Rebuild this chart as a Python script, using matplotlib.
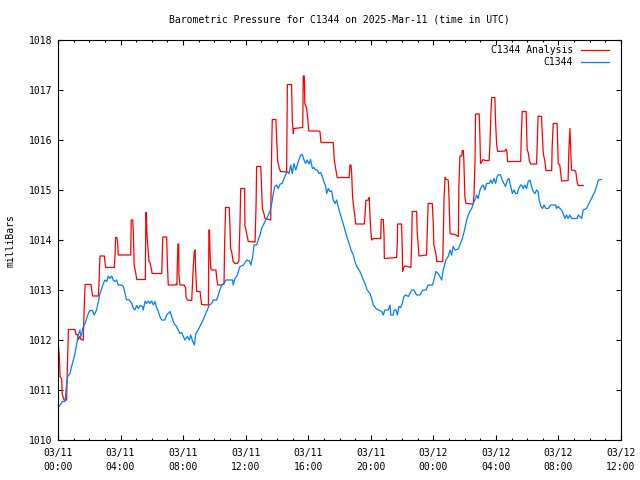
import numpy as np
import matplotlib
matplotlib.use("Agg")
import matplotlib.pyplot as plt
from matplotlib.lines import Line2D

plt.rcParams['font.family'] = ['DejaVu Sans Mono']
plt.rcParams['font.size'] = 7

# minutes after 2025-03-11 00:00 UTC, pressure in mbar
obs_min = [0, 8, 17, 27, 33, 37, 46, 52, 59, 65, 72, 78, 84, 88, 93, 97, 104, 110, 116, 123,
           132, 139, 148, 155, 161, 168, 174, 180, 187, 193, 199, 206, 212, 219, 225, 231, 244,
           251, 257, 263, 272, 283, 289, 295, 302, 308, 315, 324, 327, 334, 340, 346, 353, 359,
           366, 372, 379, 385, 391, 398, 410, 417, 430, 436, 445, 455, 461, 468, 474, 481, 487,
           496, 504, 509, 517, 523, 529, 538, 547, 557, 564, 573, 580, 590, 596, 609, 615, 621,
           628, 637, 644, 660, 670, 672, 679, 688,
           698, 711, 724, 734, 740, 747, 752, 762, 768, 775, 781, 788, 794, 801, 807, 813, 820,
           826, 832, 839, 845, 852, 860, 867, 873, 880, 886, 893, 899, 905, 912, 918, 924, 931,
           937, 944, 950, 956, 963, 969, 976, 982, 989, 995, 1001, 1008, 1014, 1020, 1027, 1031,
           1037, 1043, 1050, 1056, 1063, 1069, 1075, 1082,
           1088, 1094, 1101, 1110, 1117, 1124, 1133, 1139, 1146, 1155, 1162, 1169, 1178, 1186,
           1197, 1203, 1210, 1220, 1229, 1242, 1248, 1254, 1267, 1274, 1277, 1286, 1290, 1297,
           1302, 1308, 1315, 1321, 1327, 1334, 1344, 1350, 1357, 1366, 1376, 1389, 1399, 1412,
           1420, 1437,
           1442, 1450, 1459, 1465, 1472, 1478, 1488, 1497, 1504, 1510, 1516, 1523, 1536, 1542,
           1549, 1555, 1561, 1568, 1574, 1580, 1587, 1593, 1600, 1606, 1612, 1619, 1625, 1631,
           1638, 1644, 1654, 1660, 1666, 1673, 1679, 1685, 1692, 1698, 1704, 1711, 1717, 1724,
           1730, 1737, 1743, 1749, 1756, 1762, 1768, 1775,
           1779, 1785, 1791, 1798, 1804, 1811, 1817, 1823, 1830, 1836, 1842, 1846, 1853, 1859,
           1865, 1872, 1881, 1890, 1900, 1909, 1913, 1919, 1926, 1932, 1938, 1945, 1951, 1957,
           1964, 1970, 1983, 1992, 1996, 2002, 2009, 2015, 2028, 2034, 2041, 2047, 2053, 2060,
           2066, 2073, 2085]
obs_mb = [1010.64, 1010.70, 1010.77, 1010.77, 1011.13, 1011.27, 1011.33, 1011.47, 1011.60, 1011.73,
          1011.93, 1012.10, 1012.20, 1012.07, 1012.17, 1012.27, 1012.33, 1012.43, 1012.53, 1012.59,
          1012.59, 1012.50, 1012.60, 1012.77, 1012.93, 1013.03, 1013.13, 1013.20, 1013.17, 1013.28,
          1013.23, 1013.28, 1013.20, 1013.17, 1013.20, 1013.10, 1013.10, 1013.07, 1012.93, 1012.80,
          1012.81, 1012.73, 1012.63, 1012.60, 1012.69, 1012.63, 1012.69, 1012.67, 1012.60, 1012.78,
          1012.73, 1012.78, 1012.73, 1012.78, 1012.70, 1012.77, 1012.64, 1012.57, 1012.47,
          1012.40, 1012.40, 1012.50, 1012.57, 1012.47, 1012.33, 1012.27, 1012.20, 1012.13, 1012.15,
          1012.07, 1012.00, 1012.07, 1012.00, 1012.10, 1011.97, 1011.90, 1012.13, 1012.20, 1012.30,
          1012.40, 1012.50, 1012.60, 1012.70, 1012.73, 1012.80, 1012.80, 1012.90, 1013.00, 1013.10,
          1013.13, 1013.20, 1013.20, 1013.20, 1013.10, 1013.23, 1013.30,
          1013.47, 1013.50, 1013.60, 1013.58, 1013.50, 1013.67, 1013.90, 1013.90, 1014.00, 1014.10,
          1014.23, 1014.30, 1014.37, 1014.43, 1014.50, 1014.57, 1014.73, 1014.93, 1015.07, 1015.10,
          1015.03, 1015.12, 1015.13, 1015.23, 1015.30, 1015.37, 1015.33, 1015.50, 1015.33, 1015.53,
          1015.40, 1015.50, 1015.60, 1015.70, 1015.71, 1015.60, 1015.53, 1015.60, 1015.52, 1015.61,
          1015.43, 1015.45, 1015.40, 1015.40, 1015.33, 1015.35, 1015.27, 1015.17, 1015.07, 1014.93,
          1015.03, 1014.97, 1014.98, 1014.80, 1014.73, 1014.80, 1014.67, 1014.53,
          1014.43, 1014.33, 1014.20, 1014.03, 1013.93, 1013.80, 1013.70, 1013.57, 1013.47, 1013.40,
          1013.33, 1013.23, 1013.13, 1013.00, 1012.93, 1012.83, 1012.70, 1012.63, 1012.60, 1012.57,
          1012.50, 1012.60, 1012.60, 1012.70, 1012.50, 1012.50, 1012.60, 1012.60, 1012.50, 1012.67,
          1012.65, 1012.73, 1012.87, 1012.90, 1012.87, 1012.93, 1013.00, 1013.00, 1012.90, 1012.90,
          1013.00, 1013.00, 1013.10, 1013.10,
          1013.20, 1013.37, 1013.33, 1013.27, 1013.20, 1013.40, 1013.60, 1013.67, 1013.80, 1013.70,
          1013.87, 1013.80, 1013.82, 1013.90, 1014.00, 1014.10, 1014.23, 1014.40, 1014.50, 1014.57,
          1014.63, 1014.73, 1014.80, 1014.90, 1014.83, 1015.00, 1015.07, 1015.10, 1015.00, 1015.13,
          1015.13, 1015.20, 1015.13, 1015.23, 1015.13, 1015.27, 1015.31, 1015.30, 1015.20, 1015.13,
          1015.07, 1015.20, 1015.23, 1015.07, 1014.93, 1015.00, 1014.93, 1014.93, 1015.03, 1015.10,
          1015.10, 1015.03, 1015.10, 1015.03, 1015.17, 1015.20, 1015.07, 1014.97, 1014.93, 1015.00,
          1014.97, 1014.80, 1014.67, 1014.63, 1014.70, 1014.63, 1014.63, 1014.70, 1014.70, 1014.70,
          1014.63, 1014.67, 1014.63, 1014.60, 1014.53, 1014.43, 1014.50, 1014.43, 1014.50, 1014.43,
          1014.43, 1014.43, 1014.50, 1014.47, 1014.43, 1014.60, 1014.63, 1014.70, 1014.77, 1014.83,
          1014.90, 1014.97, 1015.07, 1015.20, 1015.21]

ana_min = [1, 5, 8, 14, 16, 23, 33, 36, 40, 65, 69, 74, 78, 84, 88, 97, 100, 104, 127, 129,
           133, 155, 157, 161, 178, 180, 183, 216, 219, 221, 226, 229, 231, 279, 281, 287, 289,
           292, 298, 302, 335, 337, 339, 341, 345, 349, 353, 359, 361, 398, 400, 402, 417, 419,
           423, 449, 453, 456, 460, 463, 464, 468, 484, 490, 491, 496, 513, 515, 519, 523, 526,
           528, 532, 545, 547, 551, 577, 579, 581, 583, 586, 590, 606, 609, 613, 628, 634, 637,
           639, 643, 657, 660, 662, 666, 672, 679, 688, 694, 698, 701, 716, 717, 721, 726, 730,
           756, 760, 762, 778, 781, 784, 790, 794, 816, 820, 822, 836, 839, 843, 849, 854, 877,
           880, 896, 899, 903, 905, 939, 941, 945, 947, 954, 958, 962, 999, 1005, 1009, 1056,
           1060, 1066, 1071, 1117, 1120, 1124, 1127, 1130, 1135, 1139, 1142, 1175, 1178, 1181,
           1190, 1194, 1197, 1200, 1203, 1210, 1238, 1240, 1248, 1251, 1252, 1299, 1302, 1303,
           1318, 1321, 1322, 1328, 1335, 1354, 1357, 1359, 1376, 1378, 1382, 1385, 1414, 1417,
           1420, 1436, 1440, 1442, 1450, 1453, 1476, 1478, 1481, 1485, 1488, 1497, 1500, 1504,
           1510, 1523, 1536, 1538, 1542, 1549, 1551, 1555, 1557, 1561, 1565, 1593, 1596, 1600,
           1602, 1616, 1619, 1621, 1631, 1638, 1654, 1657, 1661, 1664, 1676, 1679, 1683, 1687,
           1715, 1719, 1722, 1725, 1775, 1777, 1781, 1796, 1800, 1804, 1808, 1813, 1836, 1839,
           1842, 1855, 1858, 1862, 1868, 1872, 1894, 1896, 1900, 1915, 1919, 1925, 1930, 1932,
           1957, 1960, 1964, 1967, 1970, 1983, 1987, 1992, 1996, 2015]
ana_mb = [1011.90, 1011.70, 1011.27, 1011.23, 1010.93, 1010.80, 1010.80, 1011.47, 1012.21, 1012.21,
          1012.11, 1012.11, 1012.01, 1012.07, 1012.01, 1012.00, 1012.57, 1013.11, 1013.11, 1013.00,
          1012.88, 1012.88, 1013.10, 1013.68, 1013.68, 1013.57, 1013.45, 1013.45, 1013.72, 1014.05,
          1014.05, 1013.93, 1013.70, 1013.70, 1014.40, 1014.40, 1014.17, 1013.50, 1013.35, 1013.21,
          1013.21, 1014.55, 1014.55, 1014.13, 1013.85, 1013.57, 1013.55, 1013.40, 1013.33, 1013.33,
          1013.70, 1014.06, 1014.06, 1013.63, 1013.10, 1013.10, 1013.12, 1013.10, 1013.92, 1013.92,
          1013.30, 1013.10, 1013.10, 1013.03, 1012.87, 1012.80, 1012.79, 1013.03, 1013.47, 1013.77,
          1013.80, 1013.40, 1012.97, 1012.97, 1012.87, 1012.71, 1012.70, 1014.20, 1014.20, 1013.80,
          1013.43, 1013.40, 1013.40, 1013.23, 1013.10, 1013.10, 1013.12, 1013.12, 1013.87, 1014.65,
          1014.65, 1014.23, 1013.83, 1013.77, 1013.57, 1013.53, 1013.53, 1013.59, 1014.30, 1015.03,
          1015.03, 1014.30, 1014.20, 1014.07, 1013.97, 1013.96, 1014.73, 1015.47, 1015.47, 1015.03,
          1014.63, 1014.53, 1014.43, 1014.40, 1015.87, 1016.41, 1016.41, 1016.00, 1015.57, 1015.43,
          1015.37, 1015.36, 1017.11, 1017.11, 1016.37, 1016.13, 1016.23, 1016.25, 1017.28, 1017.28,
          1016.73, 1016.63, 1016.43, 1016.18, 1016.18, 1016.17, 1015.95, 1015.95, 1015.60, 1015.41,
          1015.25, 1015.25, 1015.50, 1015.50, 1015.30, 1014.87, 1014.63, 1014.47, 1014.32, 1014.32,
          1014.50, 1014.79, 1014.80, 1014.85, 1014.47, 1014.20, 1014.00, 1014.03, 1014.03, 1014.41,
          1014.41, 1014.07, 1013.63, 1013.65, 1013.97, 1014.32, 1014.32, 1013.80, 1013.37, 1013.47,
          1013.48, 1013.45, 1014.00, 1014.57, 1014.57, 1014.17, 1013.90, 1013.68, 1013.70, 1014.21,
          1014.73, 1014.73, 1014.30, 1013.90, 1013.73, 1013.57, 1013.57, 1014.00, 1014.83, 1015.25,
          1015.22, 1015.20, 1014.87, 1014.13, 1014.12, 1014.11, 1014.07, 1015.07, 1015.68, 1015.68,
          1015.79, 1015.79, 1015.60, 1014.87, 1014.73, 1014.72, 1014.90, 1015.60, 1016.52, 1016.52,
          1016.01, 1015.53, 1015.61, 1015.59, 1015.59, 1015.90, 1016.55, 1016.85, 1016.85, 1016.33,
          1015.90, 1015.77, 1015.78, 1015.82, 1015.77, 1015.57, 1015.57, 1016.00, 1016.57, 1016.57,
          1015.80, 1015.75, 1015.60, 1015.52, 1015.52, 1016.00, 1016.48, 1016.47, 1016.10, 1015.73,
          1015.57, 1015.39, 1015.39, 1015.87, 1016.33, 1016.33, 1015.53, 1015.50, 1015.28, 1015.18,
          1015.19, 1015.80, 1016.23, 1015.80, 1015.40, 1015.39, 1015.35, 1015.15, 1015.09, 1015.09]

x_tick_hours = [0, 4, 8, 12, 16, 20, 24, 28, 32, 36]
x_tick_labels = ['03/11\n00:00', '03/11\n04:00', '03/11\n08:00', '03/11\n12:00', '03/11\n16:00',
                 '03/11\n20:00', '03/12\n00:00', '03/12\n04:00', '03/12\n08:00', '03/12\n12:00']
y_ticks = [1010, 1011, 1012, 1013, 1014, 1015, 1016, 1017, 1018]

red = '#ff0000'
blue = '#0080ff'

fig = plt.figure(figsize=(6.4, 4.8), dpi=100)
ax = fig.add_axes([58 / 640, 40 / 480, 563 / 640, 400 / 480])

ax.plot(np.array(ana_min) / 60.0, ana_mb, color=red, lw=0.9)
ax.plot(np.array(obs_min) / 60.0, obs_mb, color=blue, lw=0.9)

ax.set_xlim(0, 36)
ax.set_ylim(1010, 1018)
ax.set_xticks(x_tick_hours)
ax.set_xticklabels(x_tick_labels, linespacing=1.5)
ax.set_xticks(np.arange(0, 37, 1), minor=True)
ax.set_yticks(y_ticks)
ax.set_yticklabels([str(v) for v in y_ticks])

ax.tick_params(which='both', direction='in', top=True, right=True, width=0.8)
ax.tick_params(which='major', length=3.3)
ax.tick_params(which='minor', length=1.7)
ax.tick_params(axis='x', which='major', pad=6)
ax.tick_params(axis='y', which='major', pad=4)
for s in ax.spines.values():
    s.set_linewidth(0.8)

fig.text(339 / 640, 1 - 20 / 480, 'Barometric Pressure for C1344 on 2025-Mar-11 (time in UTC)',
         ha='center', va='center')
fig.text(11 / 640, 1 - 241 / 480, 'milliBars', rotation=90, ha='center', va='center')

# gnuplot-style key: right-aligned text followed by the line sample
for i, (name, col) in enumerate([('C1344 Analysis', red), ('C1344', blue)]):
    yk = 0.975 - i * 0.031
    ax.text(0.9147, yk, name, transform=ax.transAxes, ha='right', va='center')
    ax.add_line(Line2D([0.929, 0.9787], [yk, yk], transform=ax.transAxes, color=col, lw=0.9))

fig.savefig('out.png', dpi=100)
